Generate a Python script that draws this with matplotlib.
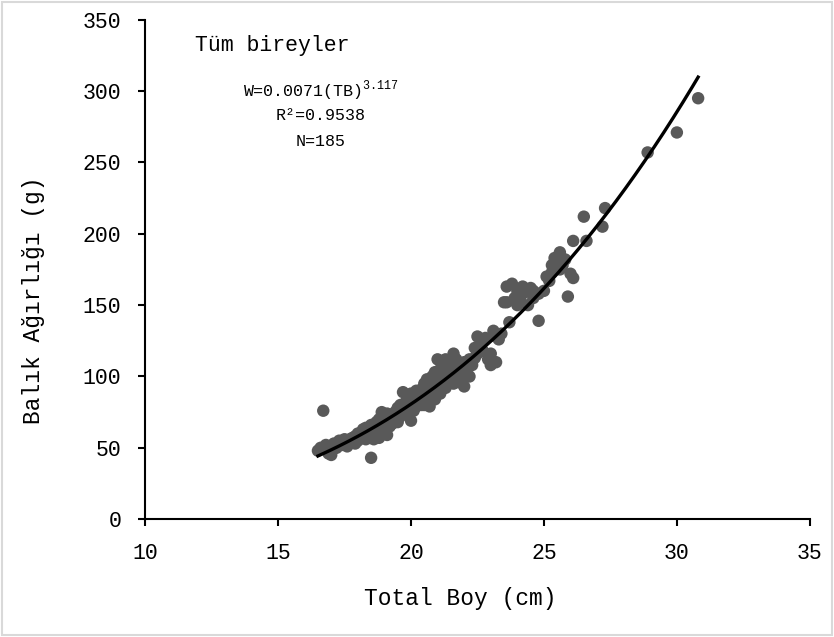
import matplotlib
matplotlib.use("Agg")
import matplotlib.pyplot as plt
import numpy as np
from matplotlib.patches import Rectangle

plt.rcParams['font.family'] = ['Liberation Mono', 'DejaVu Sans Mono']

# total length (cm) and weight (g)
boy = [16.5, 16.6, 16.8, 16.7, 16.9, 17.0, 17.2, 17.3, 17.4, 17.5,
       17.6, 17.7, 17.8, 17.9, 18.0, 18.0, 18.1, 18.2, 18.3, 18.3,
       18.4, 18.5, 18.5, 18.5, 18.6, 18.6, 18.7, 18.7, 18.8, 18.8,
       18.8, 18.9, 18.9, 19.0, 19.0, 19.0, 19.1, 19.1, 19.2, 19.2,
       19.3, 19.3, 19.4, 19.4, 19.5, 19.5, 19.6, 19.6, 19.7, 19.7,
       19.8, 19.8, 19.9, 19.9, 20.0, 20.0, 20.0, 20.1, 20.1, 20.2,
       20.2, 20.3, 20.3, 20.4, 20.4, 20.5, 20.5, 20.5, 20.6, 20.6,
       20.7, 20.7, 20.8, 20.8, 20.9, 20.9, 20.9, 21.0, 21.0, 21.0,
       21.1, 21.1, 21.1, 21.2, 21.2, 21.3, 21.3, 21.3, 21.4, 21.4,
       21.5, 21.5, 21.5, 21.6, 21.6, 21.6, 21.7, 21.7, 21.8, 21.8,
       21.9, 22.0, 22.0, 22.1, 22.2, 22.3, 22.4, 22.4, 22.5, 22.5,
       22.6, 22.7, 22.8, 22.9, 23.0, 23.0, 23.1, 23.2, 23.3, 23.4,
       23.5, 23.6, 23.7, 23.8, 23.9, 24.0, 24.0, 24.1, 24.2, 24.3,
       24.4, 24.5, 24.6, 24.8, 24.8, 25.0, 25.1, 25.2, 25.3, 25.4,
       25.5, 25.6, 25.7, 25.8, 25.9, 26.0, 26.1, 26.1, 26.5, 26.6,
       27.2, 27.3, 28.9, 30.0, 30.8,
       17.1, 17.5, 17.9, 18.2, 18.6, 18.9, 19.2, 19.5, 19.8, 20.1,
       20.3, 20.6, 20.8, 21.0, 21.2, 21.4, 21.7, 21.9, 22.2, 22.6,
       23.2, 23.6, 24.2, 24.6, 25.3, 25.6, 18.4, 19.1, 20.4, 21.1]
agirlik = [48, 50, 52, 76, 46, 45, 50, 55, 52, 54,
           51, 56, 57, 53, 55, 60, 58, 62, 56, 64,
           60, 43, 66, 58, 62, 56, 68, 60, 70, 64,
           57, 75, 66, 72, 62, 68, 74, 59, 70, 65,
           72, 67, 75, 70, 78, 68, 80, 72, 89, 76,
           82, 74, 85, 78, 88, 80, 69, 76, 84, 90,
           79, 87, 82, 91, 85, 95, 88, 80, 98, 92,
           86, 79, 100, 94, 103, 90, 84, 98, 112, 93,
           105, 100, 88, 108, 96, 112, 102, 92, 106, 99,
           110, 98, 103, 116, 105, 95, 112, 100, 108, 96,
           103, 93, 110, 105, 100, 108, 120, 113, 128, 116,
           122, 118, 127, 112, 116, 108, 132, 110, 126, 130,
           152, 163, 138, 165, 155, 150, 160, 153, 158, 160,
           150, 162, 155, 139, 158, 160, 170, 167, 173, 183,
           176, 187, 178, 182, 156, 172, 169, 195, 212, 195,
           205, 218, 257, 271, 295,
           53, 56, 58, 63, 66, 71, 68, 73, 79, 81,
           84, 88, 91, 96, 101, 104, 106, 98, 112, 119,
           128, 152, 163, 160, 178, 175, 64, 67, 80, 96]

a_coef = 0.0071
b_coef = 3.117

fig = plt.figure(figsize=(8.34, 6.37), dpi=100)
ax = fig.add_axes([0.174, 0.185, 0.797, 0.784])

ax.scatter(boy, agirlik, s=80, color='#595959', edgecolors='none', zorder=2)
xs = np.linspace(min(boy), max(boy), 200)
ax.plot(xs, a_coef * xs ** b_coef, color='black', lw=2.4, zorder=3)

ax.set_xlim(10, 35)
ax.set_ylim(0, 350)
ax.set_xticks(np.arange(10, 36, 5))
ax.set_yticks(np.arange(0, 351, 50))
for s in ['top', 'right']:
    ax.spines[s].set_visible(False)
for s in ['left', 'bottom']:
    ax.spines[s].set_linewidth(1.5)
ax.tick_params(direction='out', length=5, width=1.5, labelsize=15.5, pad=12)

ax.set_xlabel('Total Boy (cm)', fontsize=16.5, va='center')
ax.set_ylabel('Balık Ağırlığı (g)', fontsize=16.5, va='center')
ax.xaxis.set_label_coords(0.474, -0.158)
ax.yaxis.set_label_coords(-0.168, 0.439)

ax.text(14.77, 332, 'Tüm bireyler', fontsize=15.5, ha='center', va='center')
ax.text(16.6, 300, r'W=0.0071(TB)$^{\mathregular{3.117}}$', fontsize=12, ha='center', va='center')
ax.text(16.6, 283, 'R²=0.9538', fontsize=12, ha='center', va='center')
ax.text(16.6, 265, 'N=185', fontsize=12, ha='center', va='center')

fig.patches.append(Rectangle((0.002, 0.003), 0.996, 0.994, transform=fig.transFigure,
                             fill=False, edgecolor='#d9d9d9', lw=1.5))

fig.savefig('out.png', dpi=100)
